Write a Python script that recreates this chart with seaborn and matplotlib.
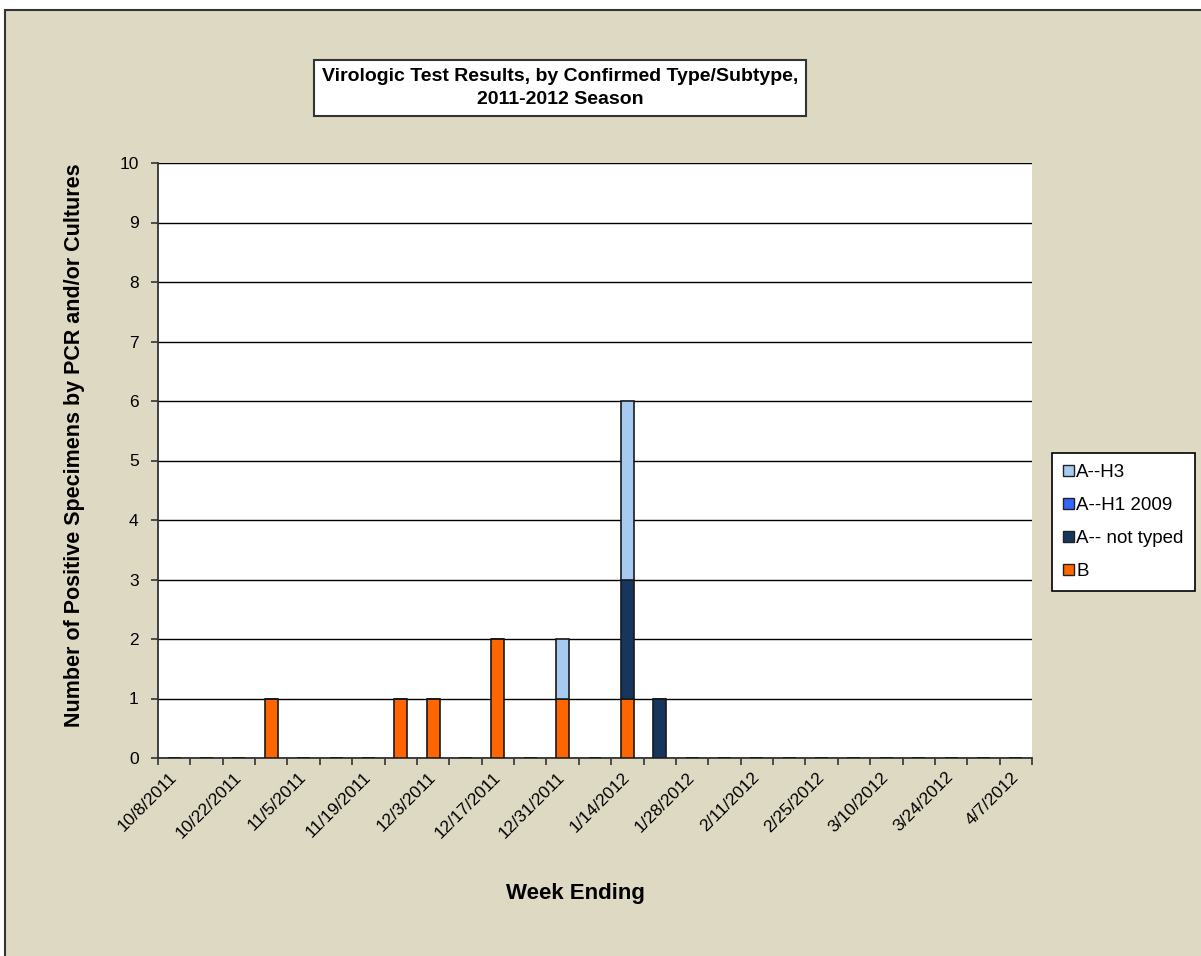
import pandas as pd
import seaborn as sns
import matplotlib.pyplot as plt
from matplotlib.patches import Rectangle, Patch

# weekly categories, 10/8/2011 .. 4/7/2012
weeks = ['10/8/2011', '10/15/2011', '10/22/2011', '10/29/2011', '11/5/2011', '11/12/2011',
         '11/19/2011', '11/26/2011', '12/3/2011', '12/10/2011', '12/17/2011', '12/24/2011',
         '12/31/2011', '1/7/2012', '1/14/2012', '1/21/2012', '1/28/2012', '2/4/2012',
         '2/11/2012', '2/18/2012', '2/25/2012', '3/3/2012', '3/10/2012', '3/17/2012',
         '3/24/2012', '3/31/2012', '4/7/2012']

b_vals =         [0, 0, 0, 1, 0, 0, 0, 1, 1, 0, 2, 0, 1, 0, 1, 0, 0, 0, 0, 0, 0, 0, 0, 0, 0, 0, 0]
not_typed_vals = [0, 0, 0, 0, 0, 0, 0, 0, 0, 0, 0, 0, 0, 0, 2, 1, 0, 0, 0, 0, 0, 0, 0, 0, 0, 0, 0]
h1_vals =        [0] * 27
h3_vals =        [0, 0, 0, 0, 0, 0, 0, 0, 0, 0, 0, 0, 1, 0, 3, 0, 0, 0, 0, 0, 0, 0, 0, 0, 0, 0, 0]

series = ['B', 'A-- not typed', 'A--H1 2009', 'A--H3']
colors = {'B': '#FF6600', 'A-- not typed': '#17365D', 'A--H1 2009': '#3366FF', 'A--H3': '#A6CAF0'}

df = pd.DataFrame({'week': weeks, 'B': b_vals, 'A-- not typed': not_typed_vals,
                   'A--H1 2009': h1_vals, 'A--H3': h3_vals})

sns.set_theme(style='white')
plt.rcParams['font.family'] = ['Liberation Sans', 'DejaVu Sans']
plt.rcParams['text.color'] = 'black'
plt.rcParams['axes.labelcolor'] = 'black'
plt.rcParams['xtick.labelcolor'] = 'black'
plt.rcParams['ytick.labelcolor'] = 'black'

bg = '#DDD9C3'
fig = plt.figure(figsize=(12.01, 9.56), dpi=100, facecolor='white')
fig.patches.append(Rectangle((5 / 1201, -0.01), 1.01, 1 - 10 / 956 + 0.01, transform=fig.transFigure,
                             facecolor=bg, edgecolor='#333333', linewidth=1.5, zorder=-10))

ax = fig.add_axes([158 / 1201, 1 - 758 / 956, 874 / 1201, 595 / 956])
ax.set_facecolor('white')

bottom = pd.Series([0] * len(weeks))
for s in series:
    sns.barplot(data=df, x='week', y=s, order=weeks, color=colors[s], width=0.4,
                bottom=bottom, edgecolor='#1a1a1a', linewidth=1.2, saturation=1, ax=ax, zorder=3)
    bottom = bottom + df[s]

ax.set_xlim(-0.5, len(weeks) - 0.5)
ax.set_ylim(0, 10)
ax.set_yticks(range(0, 11))
ax.yaxis.grid(True, color='black', linewidth=1)
ax.set_axisbelow(True)
for side in ['top', 'right']:
    ax.spines[side].set_visible(False)
for side in ['left', 'bottom']:
    ax.spines[side].set_color('#333333')
    ax.spines[side].set_linewidth(1.3)

ax.set_xticks(range(0, len(weeks), 2))
ax.set_xticklabels(weeks[::2], rotation=45, ha='right', va='center', rotation_mode='anchor',
                   fontsize=12.5)
ax.set_xticks([i - 0.5 for i in range(len(weeks) + 1)], minor=True)
ax.tick_params(axis='x', which='major', length=0, pad=12)
ax.tick_params(axis='x', which='minor', length=5, width=1.2, color='#333333', bottom=True)
ax.tick_params(axis='y', length=5, width=1.2, color='#333333', left=True, labelsize=12.5, pad=9)

ax.set_xlabel('Week Ending', fontsize=16, fontweight='bold', va='center')
ax.xaxis.set_label_coords((575 - 158) / 874, (758 - 893) / 595)
ax.set_ylabel('Number of Positive Specimens by PCR and/or Cultures', fontsize=15.5,
              fontweight='bold', va='center')
ax.yaxis.set_label_coords((75 - 158) / 874, (758 - 445) / 595)

fig.text(560 / 1201, 1 - 88 / 956, 'Virologic Test Results, by Confirmed Type/Subtype,\n2011-2012 Season',
         ha='center', va='center', fontsize=14, fontweight='bold', linespacing=1.45,
         bbox=dict(boxstyle='square,pad=0.4', facecolor='white', edgecolor='#333333', linewidth=1.5))

handles = [Patch(facecolor=colors[s], edgecolor='#222222', label=s) for s in series[::-1]]
leg = fig.legend(handles=handles, loc='upper left', bbox_to_anchor=(1052 / 1201, 1 - 453 / 956),
                 fontsize=13.5, frameon=True, fancybox=False, framealpha=1, edgecolor='black',
                 handlelength=0.55, handleheight=0.55, handletextpad=0.15, labelspacing=0.85,
                 borderpad=0.6, borderaxespad=0)
leg.get_frame().set_linewidth(1.2)

fig.savefig('out.png', dpi=100, facecolor=fig.get_facecolor())
